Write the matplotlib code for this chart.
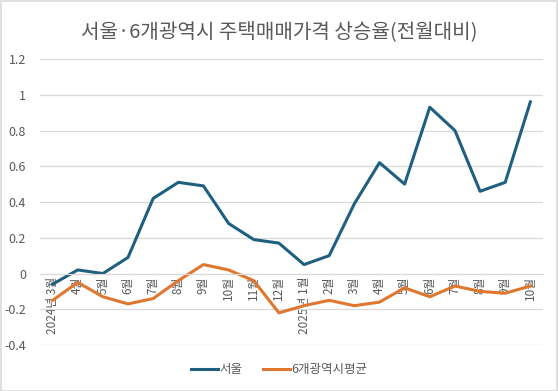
import matplotlib
matplotlib.use('Agg')
import matplotlib.pyplot as plt
from matplotlib.patches import Rectangle

plt.rcParams['font.family'] = ['Noto Sans CJK KR', 'DejaVu Sans']

months = ['2024년 3월', '4월', '5월', '6월', '7월', '8월', '9월', '10월', '11월', '12월',
          '2025년 1월', '2월', '3월', '4월', '5월', '6월', '7월', '8월', '9월', '10월']
seoul = [-0.06, 0.02, 0.00, 0.09, 0.42, 0.51, 0.49, 0.28, 0.19, 0.17,
         0.05, 0.10, 0.39, 0.62, 0.50, 0.93, 0.80, 0.46, 0.51, 0.96]
metro6 = [-0.15, -0.05, -0.13, -0.17, -0.14, -0.04, 0.05, 0.02, -0.04, -0.22,
          -0.18, -0.15, -0.18, -0.16, -0.08, -0.13, -0.07, -0.10, -0.11, -0.07]
yticks = [-0.4, -0.2, 0, 0.2, 0.4, 0.6, 0.8, 1, 1.2]

fig = plt.figure(figsize=(5.58, 3.91), dpi=100)
ax = fig.add_axes([0.0717, 0.1176, 0.9013, 0.7315])

x = list(range(len(months)))
ax.plot(x, seoul, color='#1F5F80', lw=2.2, label='서울')
ax.plot(x, metro6, color='#E0772F', lw=2.2, label='6개광역시평균')

ax.set_xlim(-0.5, len(months) - 0.5)
ax.set_ylim(-0.4, 1.2)
ax.set_yticks(yticks)
ax.set_yticklabels(['-0.4', '-0.2', '0', '0.2', '0.4', '0.6', '0.8', '1', '1.2'])
ax.grid(axis='y', color='#D9D9D9', lw=0.9)
ax.set_axisbelow(True)

for s in ['top', 'right', 'left']:
    ax.spines[s].set_visible(False)
ax.spines['bottom'].set_position(('data', 0))
ax.spines['bottom'].set_color('#D9D9D9')
ax.set_xticks(x)
ax.set_xticklabels(months, rotation=90)
ax.tick_params(axis='x', length=0, pad=2, labelsize=8.5, labelcolor='#595959')
ax.tick_params(axis='y', length=0, pad=10, labelsize=9, labelcolor='#595959')

fig.suptitle('서울·6개광역시 주택매매가격 상승율(전월대비)', fontsize=14.5,
             color='#595959', y=0.945)
fig.legend(loc='center', bbox_to_anchor=(0.5, 0.054), ncol=2, frameon=False,
           fontsize=9, labelcolor='#595959', handlelength=2.2, handletextpad=0.1,
           columnspacing=1.6)

fig.patches.append(Rectangle((0.001, 0.001), 0.997, 0.997, transform=fig.transFigure,
                             fill=False, edgecolor='#D9D9D9', lw=1.2))

fig.savefig('out.png', dpi=100)
